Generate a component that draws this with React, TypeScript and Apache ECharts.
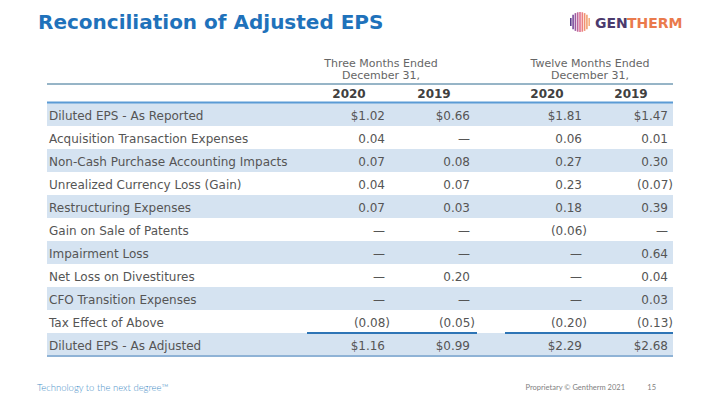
import React, { useEffect, useRef } from "react";
import * as echarts from "echarts";

const title = "Reconciliation of Adjusted EPS";
const groupHeaders = ["Three Months Ended\nDecember 31,", "Twelve Months Ended\nDecember 31,"];
const yearHeaders = ["2020", "2019", "2020", "2019"];
const rowLabels = [
  "Diluted EPS - As Reported",
  "Acquisition Transaction Expenses",
  "Non-Cash Purchase Accounting Impacts",
  "Unrealized Currency Loss (Gain)",
  "Restructuring Expenses",
  "Gain on Sale of Patents",
  "Impairment Loss",
  "Net Loss on Divestitures",
  "CFO Transition Expenses",
  "Tax Effect of Above",
  "Diluted EPS - As Adjusted",
];
const q4_2020 = [1.02, 0.04, 0.07, 0.04, 0.07, null, null, null, null, -0.08, 1.16];
const q4_2019 = [0.66, null, 0.08, 0.07, 0.03, null, null, 0.2, null, -0.05, 0.99];
const fy_2020 = [1.81, 0.06, 0.27, 0.23, 0.18, -0.06, null, null, null, -0.2, 2.29];
const fy_2019 = [1.47, 0.01, 0.3, -0.07, 0.39, null, 0.64, 0.04, 0.03, -0.13, 2.68];
const dollarRows = [0, 10];
const footerLeft = "Technology to the next degree\u2122";
const footerRight = "Proprietary \u00a9 Gentherm 2021";
const pageNumber = "15";

const FONT = "'DejaVu Sans', Verdana, sans-serif";
const TEXT = "#555555";
const SHADE = "#d5e3f1";

function fmt(v: number | null, dollar: boolean): string {
  if (v === null) return "\u2014";
  const s = (dollar ? "$" : "") + Math.abs(v).toFixed(2);
  return v < 0 ? "(" + s + ")" : s;
}

export default function App() {
  const ref = useRef<HTMLDivElement>(null);
  useEffect(() => {
    const chart = echarts.init(ref.current!, null, { renderer: "svg" });
    const left = 47;
    const right = 673;
    const top0 = 103;
    const rowH = 23;
    const colRight = [385, 470, 582, 668];
    const colCenter = [349, 434, 547, 631];
    const groupCenter = [381, 590];
    const cols = [q4_2020, q4_2019, fy_2020, fy_2019];
    const els: any[] = [];

    // title
    els.push({
      type: "text",
      x: 38,
      y: 22,
      style: { text: title, font: `bold 20px ${FONT}`, fill: "#1f72bb", align: "left", verticalAlign: "middle" },
    });
    // logo icon
    const cx = 580, cy = 22, r = 10;
    const stripeColors = ["#5b3f8c", "#7a4a9a", "#9b5aa0", "#c0669a", "#dd7290", "#ec8080", "#f09070", "#f3a070", "#f5b080"];
    for (let i = 0; i < stripeColors.length; i++) {
      const dx = (i - 4) * 2.3;
      const h = Math.sqrt(Math.max(r * r - dx * dx, 0));
      els.push({
        type: "line",
        shape: { x1: cx + dx, y1: cy - h, x2: cx + dx, y2: cy + h },
        style: { stroke: stripeColors[i], lineWidth: 1.6 },
      });
    }
    els.push({
      type: "text",
      x: 595,
      y: 23,
      style: { text: "GEN", font: `bold 14px ${FONT}`, fill: "#4b3a6e", align: "left", verticalAlign: "middle" },
    });
    els.push({
      type: "text",
      x: 627,
      y: 23,
      style: { text: "THERM", font: `bold 14px ${FONT}`, fill: "#ea7a4c", align: "left", verticalAlign: "middle" },
    });

    // group headers
    groupHeaders.forEach((g, i) => {
      const lines = g.split("\n");
      lines.forEach((ln, j) => {
        els.push({
          type: "text",
          x: groupCenter[i],
          y: 63 + j * 12.5,
          style: { text: ln, font: `11px ${FONT}`, fill: "#666", align: "center", verticalAlign: "middle" },
        });
      });
    });
    // top thin line
    els.push({ type: "line", shape: { x1: left, y1: 84, x2: right, y2: 84 }, style: { stroke: "#2f6b8f", lineWidth: 1 } });
    // years
    yearHeaders.forEach((y, i) => {
      els.push({
        type: "text",
        x: colCenter[i],
        y: 94,
        style: { text: y, font: `bold 12px ${FONT}`, fill: "#404040", align: "center", verticalAlign: "middle" },
      });
    });

    // row shading
    rowLabels.forEach((_, i) => {
      if (i % 2 === 0) {
        els.push({
          type: "rect",
          shape: { x: left, y: top0 + i * rowH, width: right - left, height: rowH },
          style: { fill: SHADE },
        });
      }
    });
    // line under years
    els.push({ type: "line", shape: { x1: left, y1: 102.5, x2: right, y2: 102.5 }, style: { stroke: "#5b9bd5", lineWidth: 2 } });
    // bottom line
    const bottom = top0 + rowLabels.length * rowH;
    els.push({ type: "line", shape: { x1: left, y1: bottom, x2: right, y2: bottom }, style: { stroke: "#8fb3d6", lineWidth: 2 } });
    // underline before total
    const uY = top0 + 10 * rowH;
    els.push({ type: "line", shape: { x1: 307, y1: uY, x2: 477, y2: uY }, style: { stroke: "#2e75b6", lineWidth: 2 } });
    els.push({ type: "line", shape: { x1: 505, y1: uY, x2: right, y2: uY }, style: { stroke: "#2e75b6", lineWidth: 2 } });

    // rows text
    rowLabels.forEach((lab, i) => {
      const yc = top0 + i * rowH + 13;
      els.push({
        type: "text",
        x: 49,
        y: yc,
        style: { text: lab, font: `12px ${FONT}`, fill: TEXT, align: "left", verticalAlign: "middle" },
      });
      cols.forEach((col, c) => {
        const v = col[i];
        const neg = v !== null && v < 0;
        els.push({
          type: "text",
          x: colRight[c] + (neg ? 5 : 0),
          y: yc,
          style: {
            text: fmt(v, dollarRows.includes(i)),
            font: `12px ${FONT}`,
            fill: TEXT,
            align: "right",
            verticalAlign: "middle",
          },
        });
      });
    });

    // footer
    els.push({
      type: "text",
      x: 37,
      y: 387,
      style: { text: footerLeft, font: `300 9.5px Lato, sans-serif`, fill: "#4a90c8", align: "left", verticalAlign: "middle" },
    });
    els.push({
      type: "text",
      x: 625,
      y: 387,
      style: { text: footerRight, font: `7.5px Lato, sans-serif`, fill: "#7f7f7f", align: "right", verticalAlign: "middle" },
    });
    els.push({
      type: "text",
      x: 656,
      y: 387,
      style: { text: pageNumber, font: `7.5px Lato, sans-serif`, fill: "#7f7f7f", align: "right", verticalAlign: "middle" },
    });

    chart.setOption({
      animation: false,
      backgroundColor: "#ffffff",
      graphic: { elements: els },
    });
    return () => chart.dispose();
  }, []);
  return <div ref={ref} style={{ position: "fixed", left: 0, top: 0, width: 720, height: 405 }} />;
}
